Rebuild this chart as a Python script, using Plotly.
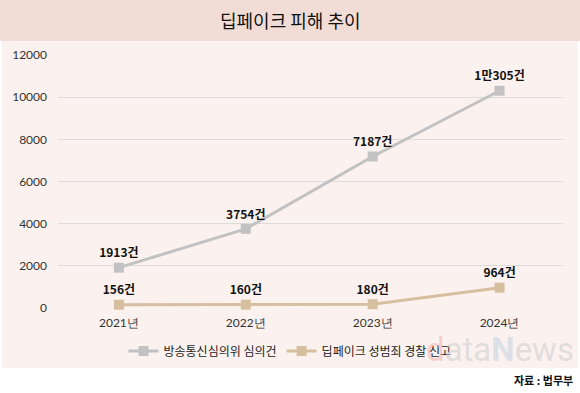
import plotly.graph_objects as go

years = ["2021년", "2022년", "2023년", "2024년"]
kcsc = [1913, 3754, 7187, 10305]
kcsc_labels = ["1913건", "3754건", "7187건", "1만305건"]
police = [156, 160, 180, 964]
police_labels = ["156건", "160건", "180건", "964건"]
y_ticks = [0, 2000, 4000, 6000, 8000, 10000, 12000]

W, H = 580, 393
L, R, T, B = 58, 17, 55, 85
PW, PH = W - L - R, H - T - B

def px(x):
    return (x - L) / PW

def py(y):
    return (H - B - y) / PH

fig = go.Figure()
fig.add_trace(go.Scatter(
    x=list(range(4)), y=kcsc, mode="lines+markers+text",
    name="방송통신심의위 심의건",
    line=dict(color="#c2c2c2", width=3),
    marker=dict(symbol="square", size=10, color="#c2c2c2"),
    text=kcsc_labels, textposition="top center",
    textfont=dict(family="Noto Sans CJK KR", size=12, color="#111111", weight="bold"),
    cliponaxis=False,
))
fig.add_trace(go.Scatter(
    x=list(range(4)), y=police, mode="lines+markers+text",
    name="딥페이크 성범죄 경찰 신고",
    line=dict(color="#d6bf9e", width=3),
    marker=dict(symbol="square", size=10, color="#d6bf9e"),
    text=police_labels, textposition="top center",
    textfont=dict(family="Noto Sans CJK KR", size=12, color="#111111", weight="bold"),
    cliponaxis=False,
))

shapes = [
    dict(type="rect", xref="paper", yref="paper", x0=px(0), x1=px(W), y0=py(0), y1=py(41),
         fillcolor="#f1ddd5", line=dict(width=0), layer="below"),
    dict(type="rect", xref="paper", yref="paper", x0=px(2), x1=px(578), y0=py(41), y1=py(368),
         fillcolor="#fbf2ef", line=dict(width=0), layer="below"),
]

annotations = [
    dict(text="<span style='color:rgba(240,170,170,0.5)'>d</span>"
              "<span style='color:rgba(200,200,200,0.5)'>ata</span>"
              "<span style='color:rgba(200,210,225,0.6)'><b>N</b></span>"
              "<span style='color:rgba(200,200,200,0.5)'>ews</span>",
         xref="paper", yref="paper", x=px(576), y=py(349),
         showarrow=False, font=dict(family="Roboto", size=33),
         xanchor="right", yanchor="middle"),
    dict(text="딥페이크 피해 추이", xref="paper", yref="paper", x=px(290), y=py(20),
         showarrow=False, font=dict(family="Noto Sans CJK KR", size=18, color="#111111"),
         xanchor="center", yanchor="middle"),
    dict(text="<b>자료 : 법무부</b>", xref="paper", yref="paper", x=px(575), y=py(380),
         showarrow=False, font=dict(family="Noto Sans CJK KR", size=11, color="#111111"),
         xanchor="right", yanchor="middle"),
]

fig.update_layout(
    width=W, height=H,
    margin=dict(l=L, r=R, t=T, b=B, autoexpand=False),
    paper_bgcolor="white", plot_bgcolor="rgba(0,0,0,0)",
    shapes=shapes, annotations=annotations,
    showlegend=True,
    legend=dict(orientation="h", x=px(290), y=py(351), xanchor="center", yanchor="middle",
                font=dict(family="Noto Sans CJK KR", size=12, color="#222222"),
                bgcolor="rgba(0,0,0,0)", itemwidth=30),
    xaxis=dict(range=[-0.48, 3.5], tickvals=list(range(4)), ticktext=years,
               showgrid=False, zeroline=False, showline=False, automargin=False,
               tickfont=dict(family="Lato", size=12, color="#333333"), ticks="", ticklabelstandoff=6),
    yaxis=dict(range=[0, 12000], tickvals=y_ticks, tickformat="d", showgrid=True,
               gridcolor="#dcdcdc", gridwidth=1, automargin=False,
               zeroline=False, showline=False,
               tickfont=dict(family="Lato", size=12, color="#333333"), ticks="", ticklabelstandoff=10),
)

fig.write_html("out.html", config={"displayModeBar": False},
               post_script="document.body.style.margin='0';")
